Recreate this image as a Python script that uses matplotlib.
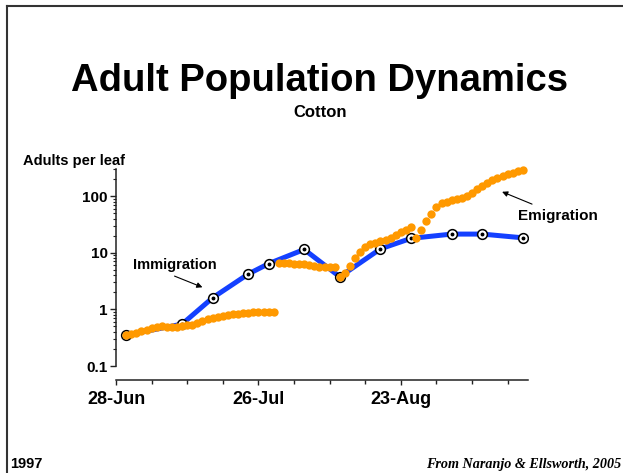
import matplotlib
matplotlib.use("Agg")
import matplotlib.pyplot as plt
from matplotlib.lines import Line2D
from matplotlib.ticker import LogLocator, NullFormatter

plt.rcParams["font.family"] = ["Liberation Sans", "DejaVu Sans"]
plt.rcParams["font.weight"] = "bold"

# 横轴: 1997-06-28 以后的天数
blue_days = [2, 13, 19, 26, 30, 37, 44, 52, 58, 66, 72, 80]
blue_vals = [0.35, 0.55, 1.6, 4.2, 6.4, 11.4, 3.76, 11.7, 17.9, 21.3, 21.3, 18.3]

orange_a_days = list(range(2, 32))
orange_a_vals = [0.35, 0.37, 0.39, 0.41, 0.43, 0.46, 0.49, 0.50, 0.49, 0.48,
                 0.49, 0.50, 0.52, 0.54, 0.58, 0.62, 0.67, 0.71, 0.74, 0.77,
                 0.80, 0.82, 0.84, 0.86, 0.87, 0.88, 0.88, 0.88, 0.88, 0.88]

orange_b_days = list(range(32, 81))
orange_b_vals = [6.6, 6.5, 6.5, 6.4, 6.3, 6.2, 6.0, 5.8, 5.6, 5.5,
                 5.5, 5.6, 3.76, 4.4, 5.9, 7.9, 10.4, 12.7, 14.2, 15.0,
                 15.8, 16.8, 18.5, 20.5, 23.0, 25.5, 28.6, 17.9, 25.0, 36.0,
                 48.0, 64.0, 76.0, 80.0, 84.0, 88.0, 93.0, 100.0, 115.0, 132.0,
                 150.0, 172.0, 192.0, 210.0, 225.0, 240.0, 256.0, 272.0, 288.0]

x_major = [0, 28, 56]
x_labels = ["28-Jun", "26-Jul", "23-Aug"]
y_major = [0.1, 1, 10, 100]
y_labels = ["0.1", "1", "10", "100"]

blue = "#1440ff"
orange = "#ff9900"

fig = plt.figure(figsize=(6.23, 4.73), dpi=100)
ax = fig.add_axes([0.1862, 0.2262, 0.6613, 0.4165])
ax.set_yscale("log")
ax.set_ylim(0.1, 300)
ax.set_xlim(0, 81)

# 蓝线 + 圆圈标记
ax.plot(blue_days, blue_vals, color=blue, lw=3.6, solid_capstyle="round", zorder=2)
ax.plot(blue_days, blue_vals, ls="none", marker="o", ms=7, mfc="white", mec="black",
        mew=1.1, zorder=3)
ax.plot(blue_days, blue_vals, ls="none", marker="o", ms=1.8, color="black", zorder=3)

# 橙色点
for d, v in [(orange_a_days, orange_a_vals), (orange_b_days, orange_b_vals)]:
    ax.plot(d, v, ls="none", marker="o", ms=6, color=orange, mec="none",
            zorder=4, clip_on=False)

# 坐标轴
for s in ["top", "right"]:
    ax.spines[s].set_visible(False)
for s in ["left", "bottom"]:
    ax.spines[s].set_linewidth(1.1)
    ax.spines[s].set_color("#222222")
ax.spines["bottom"].set_position(("outward", 10))

ax.set_xticks(x_major)
ax.set_xticklabels(x_labels)
ax.set_xticks(range(0, 81, 7), minor=True)
ax.tick_params(axis="x", which="major", length=3.8, width=1, labelsize=13, pad=4.5,
               color="#222222")
ax.tick_params(axis="x", which="minor", length=2.8, width=1, color="#222222")

ax.set_yticks(y_major)
ax.set_yticklabels(y_labels)
ax.yaxis.set_minor_locator(LogLocator(base=10, subs=range(2, 10)))
ax.yaxis.set_minor_formatter(NullFormatter())
ax.tick_params(axis="y", which="major", length=4.5, width=1, labelsize=11, pad=1.5,
               color="#222222")
ax.tick_params(axis="y", which="minor", length=2.2, width=0.8, color="#222222")

# 注释
ax.text(3.4, 5.07, "Immigration", fontsize=10.5, ha="left", va="baseline")
ax.annotate("", xy=(17.5, 2.35), xytext=(11.0, 4.03),
            arrowprops=dict(arrowstyle="-|>", color="black", lw=0.8, mutation_scale=8))
ax.text(79.0, 37.6, "Emigration", fontsize=11, ha="left", va="baseline")
ax.annotate("", xy=(75.4, 124), xytext=(82.3, 69), annotation_clip=False,
            arrowprops=dict(arrowstyle="-|>", color="black", lw=0.8, mutation_scale=8))

# 标题与其它文字
fig.text(320 / 623, 1 - 91 / 473, "Adult Population Dynamics", fontsize=27.5,
         ha="center", va="baseline")
fig.text(320 / 623, 1 - 117 / 473, "Cotton", fontsize=12, ha="center", va="baseline")
fig.text(23 / 623, 1 - 165 / 473, "Adults per leaf", fontsize=10.5, ha="left", va="baseline")
fig.text(10 / 623, 1 - 468 / 473, "1997", fontsize=10.5, ha="left", va="baseline")
fig.text(426 / 623, 1 - 468 / 473, "From Naranjo & Ellsworth, 2005", fontsize=10.2,
         family=["Liberation Serif", "DejaVu Serif"], style="italic", ha="left",
         va="baseline")

# 幻灯片边框
fig.add_artist(Line2D([7 / 623, 7 / 623], [0, 1 - 6 / 473], transform=fig.transFigure,
                      color="#333333", lw=1.5))
fig.add_artist(Line2D([7 / 623, 1], [1 - 6 / 473, 1 - 6 / 473], transform=fig.transFigure,
                      color="#333333", lw=1.5))

fig.savefig("out.png", dpi=100)
